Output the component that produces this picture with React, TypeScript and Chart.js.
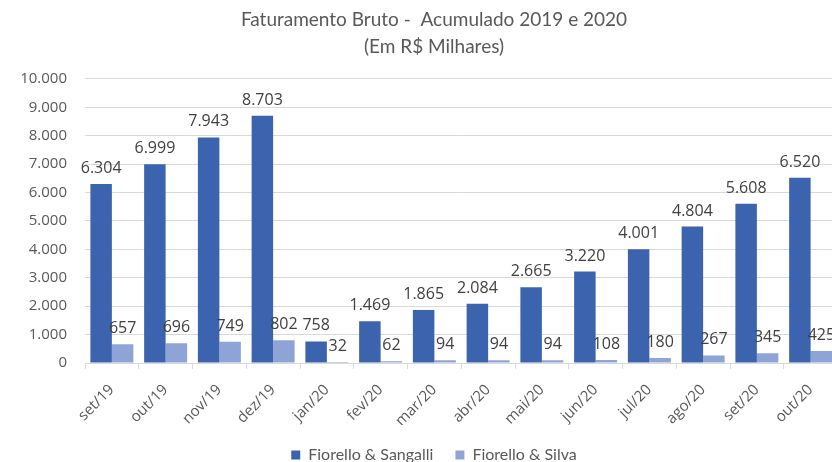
import React, { useEffect, useRef } from "react";
import { Chart, registerables } from "chart.js";

Chart.register(...registerables);

const categories = ["set/19", "out/19", "nov/19", "dez/19", "jan/20", "fev/20", "mar/20", "abr/20", "mai/20", "jun/20", "jul/20", "ago/20", "set/20", "out/20"];
const sangalli = [6304, 6999, 7943, 8703, 758, 1469, 1865, 2084, 2665, 3220, 4001, 4804, 5608, 6520];
const silva = [657, 696, 749, 802, 32, 62, 94, 94, 94, 108, 180, 267, 345, 425];
const seriesNames = ["Fiorello & Sangalli", "Fiorello & Silva"];
const titleLines = ["Faturamento Bruto -  Acumulado 2019 e 2020", "(Em R$ Milhares)"];

const fmt = (v: number) => {
  const s = Math.round(v).toString();
  return s.replace(/\B(?=(\d{3})+(?!\d))/g, ".");
};

const labelPlugin = {
  id: "barLabels",
  afterDatasetsDraw(chart: any) {
    const ctx = chart.ctx;
    ctx.save();
    ctx.font = "16px 'Open Sans'";
    ctx.fillStyle = "#404040";
    ctx.textAlign = "center";
    ctx.textBaseline = "alphabetic";
    chart.data.datasets.forEach((ds: any, i: number) => {
      const meta = chart.getDatasetMeta(i);
      meta.data.forEach((el: any, j: number) => {
        ctx.fillText(fmt(ds.data[j]), el.x, el.y - 11);
      });
    });
    ctx.restore();
  },
};

export default function App() {
  const ref = useRef<HTMLCanvasElement>(null);
  useEffect(() => {
    if (!ref.current) return;
    const chart = new Chart(ref.current, {
      type: "bar",
      data: {
        labels: categories,
        datasets: [
          { label: seriesNames[0], data: sangalli, backgroundColor: "#3c64ae", categoryPercentage: 0.8, barPercentage: 1, yAxisID: "y" },
          { label: seriesNames[1], data: silva, backgroundColor: "#8fa4d6", categoryPercentage: 0.8, barPercentage: 1, yAxisID: "y" },
        ],
      },
      options: {
        responsive: false,
        animation: false,
        layout: { padding: 0 },
        plugins: {
          title: {
            display: true,
            text: titleLines,
            color: "#595959",
            font: { family: "Lato", size: 19, weight: "normal", lineHeight: 1.42 },
            padding: { top: 6, bottom: 19 },
          },
          legend: {
            position: "bottom",
            labels: {
              color: "#595959",
              font: { family: "Lato", size: 16 },
              boxWidth: 9,
              boxHeight: 9,
              padding: 22,
            },
          },
          tooltip: { enabled: false },
        },
        scales: {
          x: {
            offset: true,
            grid: { offset: true, drawOnChartArea: false, drawTicks: true, tickLength: 6, color: "#d9d9d9" },
            border: { display: true, color: "#d9d9d9" },
            ticks: { color: "#595959", font: { family: "Open Sans", size: 15 }, maxRotation: 45, minRotation: 45, padding: 12 },
            afterFit: (s: any) => { s.height = 62; },
          },
          y: {
            position: "left",
            min: 0,
            max: 10000,
            grid: { color: "#d9d9d9", drawTicks: false },
            border: { display: false },
            ticks: { stepSize: 1000, color: "#595959", font: { family: "Open Sans", size: 15 }, padding: 18, callback: (v: any) => fmt(Number(v)) },
            afterFit: (s: any) => { s.width = 85; },
          },
          yRight: {
            position: "right",
            display: true,
            grid: { display: false, drawTicks: false },
            border: { display: false },
            ticks: { display: false },
            afterFit: (s: any) => { s.width = 30.5; },
          },
        },
      },
      plugins: [labelPlugin],
    });
    return () => chart.destroy();
  }, []);
  return (
    <div style={{ position: "fixed", left: 0, top: 0, width: 832, height: 462, overflow: "hidden", background: "#fff" }}>
      <canvas ref={ref} width={868} height={473} style={{ display: "block" }} />
    </div>
  );
}
